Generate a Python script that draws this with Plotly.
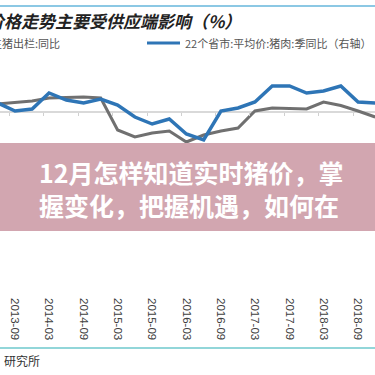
import plotly.graph_objects as go
import pandas as pd

# ---- data ----
quarters = ["2013-06", "2013-09", "2013-12", "2014-03", "2014-06", "2014-09", "2014-12",
            "2015-03", "2015-06", "2015-09", "2015-12", "2016-03", "2016-06", "2016-09",
            "2016-12", "2017-03", "2017-06", "2017-09", "2017-12", "2018-03", "2018-06",
            "2018-09", "2018-12"]
hog_slaughter_yoy = [1.6, 1.9, 2.2, 2.8, 2.9, 3.0, 2.8,
                     -3.6, -5.0, -4.2, -3.8, -6.0, -4.6, -3.8,
                     -3.2, 0.2, 0.8, 0.7, 0.6, 2.0, 1.3,
                     0.2, -1.0]
pork_price_yoy = [-9, -1, -3, -19, -12, -9, -13,
                  -7, 5, 12, 7, 22, 28, -1,
                  -4, -10, -26, -26, -19, -21, -26,
                  -10, -9]
tick_labels = ["2013-09", "2014-03", "2014-09", "2015-03", "2015-09", "2016-03",
               "2016-09", "2017-03", "2017-09", "2018-03", "2018-09"]

title_text = "生猪价格走势主要受供应端影响（%）"
legend_gray = "生猪出栏:同比"
legend_blue = "22个省市:平均价:猪肉:季同比（右轴）"
source_text = "研究所"
banner_line1 = "12月怎样知道实时猪价，掌"
banner_line2 = "握变化，把握机遇，如何在"

W = H = 375
def px(x):
    return x / W
def py(y):
    return 1 - y / H

dates = pd.to_datetime([q + "-01" for q in quarters])
tickvals = pd.to_datetime([t + "-01" for t in tick_labels])

x_start = pd.Timestamp("2013-06-13")
x_end = pd.Timestamp("2018-11-30")
shift = pd.Timedelta(days=27)

BLUE = "rgb(46,117,182)"
GRAY = "rgb(112,112,112)"

# plot-area pixel geometry
TOP_PX, BOT_PX, ZERO_PX = 56, 297, 112
L_SCALE = 5.0   # px per % on left axis
R_SCALE = 1.0   # px per % on right (reversed) axis
left_range = [-(BOT_PX - ZERO_PX) / L_SCALE, (ZERO_PX - TOP_PX) / L_SCALE]
right_range = [(BOT_PX - ZERO_PX) / R_SCALE, -(ZERO_PX - TOP_PX) / R_SCALE]

fig = go.Figure()
fig.add_trace(go.Scatter(x=dates, y=hog_slaughter_yoy, mode="lines",
                         line=dict(color=GRAY, width=3), yaxis="y", xaxis="x",
                         showlegend=False))
fig.add_trace(go.Scatter(x=dates, y=pork_price_yoy, mode="lines",
                         line=dict(color=BLUE, width=3.5), yaxis="y2", xaxis="x",
                         showlegend=False))
# invisible helper so the zero-line tick axis is rendered
fig.add_trace(go.Scatter(x=[x_start + shift], y=[0], xaxis="x3", yaxis="y",
                         mode="markers", marker=dict(opacity=0), showlegend=False,
                         hoverinfo="skip"))

dom = [py(BOT_PX), py(TOP_PX)]
fig.update_layout(
    width=W, height=H,
    margin=dict(l=0, r=0, t=0, b=0),
    paper_bgcolor="white", plot_bgcolor="white",
    xaxis=dict(range=[x_start, x_end], tickvals=tickvals, tickformat="%Y-%m",
               tickangle=90, showgrid=False, zeroline=False, showline=False,
               ticks="", tickfont=dict(family="Liberation Sans", size=11.5, color="#404040"),
               anchor="y", domain=[0, 1]),
    xaxis3=dict(range=[x_start + shift, x_end + shift], tickvals=tickvals,
                overlaying="x", anchor="free", position=py(ZERO_PX),
                showticklabels=False, ticks="outside", ticklen=3, tickcolor="#d0d0d0",
                showgrid=False, zeroline=False, showline=False),
    yaxis=dict(range=left_range, domain=dom, showgrid=False, zeroline=True,
               zerolinecolor="#d9d9d9", zerolinewidth=1.5, showticklabels=False,
               showline=False, ticks=""),
    yaxis2=dict(range=right_range, overlaying="y", side="right", showgrid=False,
                zeroline=False, showticklabels=False, showline=False, ticks=""),
    font=dict(family="Noto Sans CJK SC"),
)

shapes = [
    dict(type="line", xref="paper", yref="paper", x0=0, x1=1, y0=py(6), y1=py(6),
         line=dict(color="rgb(140,200,228)", width=2)),
    dict(type="line", xref="paper", yref="paper", x0=0, x1=1, y0=py(348), y1=py(348),
         line=dict(color="rgb(110,200,205)", width=1.5)),
    dict(type="line", xref="paper", yref="paper", x0=px(147), x1=px(180), y0=py(43), y1=py(43),
         line=dict(color=BLUE, width=3)),
    dict(type="rect", xref="paper", yref="paper", x0=0, x1=1, y0=py(231), y1=py(143),
         fillcolor="rgb(210,166,176)", line=dict(width=0), layer="above"),
]
fig.update_layout(shapes=shapes)

annotations = [
    dict(text=title_text, x=px(243), y=py(20), xanchor="right", yanchor="middle",
         font=dict(family="Noto Sans CJK SC", size=17, color="#222", style="italic",
                   weight="bold")),
    dict(text=legend_gray, x=px(62), y=py(43), xanchor="right", yanchor="middle",
         font=dict(family="Noto Sans CJK SC", size=11, color="#555")),
    dict(text=legend_blue, x=px(183), y=py(43), xanchor="left", yanchor="middle",
         font=dict(family="Noto Sans CJK SC", size=11, color="#555")),
    dict(text=source_text, x=px(2), y=py(360), xanchor="left", yanchor="middle",
         font=dict(family="Noto Sans CJK SC", size=12, color="#333")),
    dict(text=banner_line1, x=px(37), y=py(172), xanchor="left", yanchor="middle",
         font=dict(family="Noto Sans CJK SC", size=25, color="white", weight="bold")),
    dict(text=banner_line2, x=px(37), y=py(205), xanchor="left", yanchor="middle",
         font=dict(family="Noto Sans CJK SC", size=25, color="white", weight="bold")),
]
for a in annotations:
    a.update(xref="paper", yref="paper", showarrow=False)
fig.update_layout(annotations=annotations)

fig.write_html("out.html", config={"displayModeBar": False},
               post_script="document.body.style.margin='0';")
